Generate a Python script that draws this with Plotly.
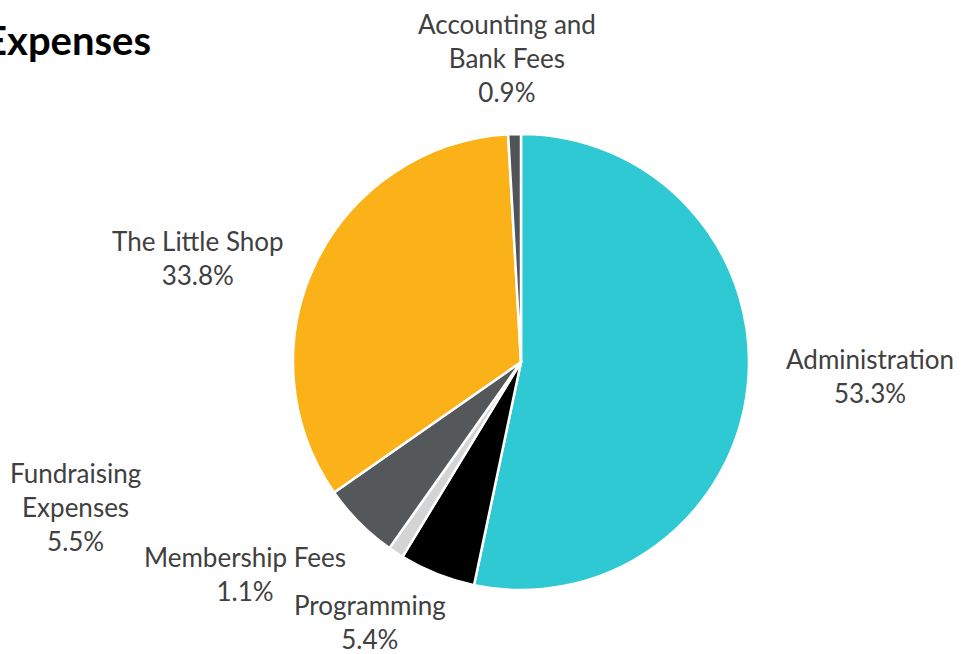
import plotly.graph_objects as go

W, H = 963, 654

categories = ["Administration", "Programming", "Membership Fees",
              "Fundraising Expenses", "The Little Shop", "Accounting and Bank Fees"]
values = [53.3, 5.4, 1.1, 5.5, 33.8, 0.9]
label_text = ["Administration", "Programming", "Membership Fees",
              "Fundraising<br>Expenses", "The Little Shop", "Accounting and<br>Bank Fees"]
colors = ["#2EC9D2", "#000000", "#D4D4D4", "#54585B", "#FBB118", "#505459"]

# label centre positions in pixels (layout only)
label_pos = [(870, 376), (370, 622), (245, 574), (75, 507), (198, 258), (507, 58)]

cx, cy, r = 521, 362, 228

fig = go.Figure()
fig.add_trace(go.Pie(
    labels=categories,
    values=values,
    sort=False,
    direction="clockwise",
    rotation=0,
    marker=dict(colors=colors, line=dict(color="white", width=2.5)),
    textinfo="none",
    hoverinfo="label+percent",
    showlegend=False,
    domain=dict(x=[(cx - r) / W, (cx + r) / W], y=[1 - (cy + r) / H, 1 - (cy - r) / H]),
))

for txt, v, (px, py) in zip(label_text, values, label_pos):
    fig.add_annotation(
        x=px / W, y=1 - py / H, xref="paper", yref="paper",
        text=f"{txt}<br>{v:.1f}%", showarrow=False,
        xanchor="center", yanchor="middle",
        font=dict(family="Lato, Open Sans, sans-serif", size=26, color="#404040"),
        align="center",
    )

fig.add_annotation(
    x=153 / W, y=1 - 40 / H, xref="paper", yref="paper",
    text="<b>Expenses</b>", showarrow=False, xanchor="right", yanchor="middle",
    font=dict(family="Lato, Open Sans, sans-serif", size=40, color="#000000"),
)

fig.update_layout(
    width=W, height=H,
    margin=dict(l=0, r=0, t=0, b=0),
    paper_bgcolor="white", plot_bgcolor="white",
)

fig.write_html("out.html")
